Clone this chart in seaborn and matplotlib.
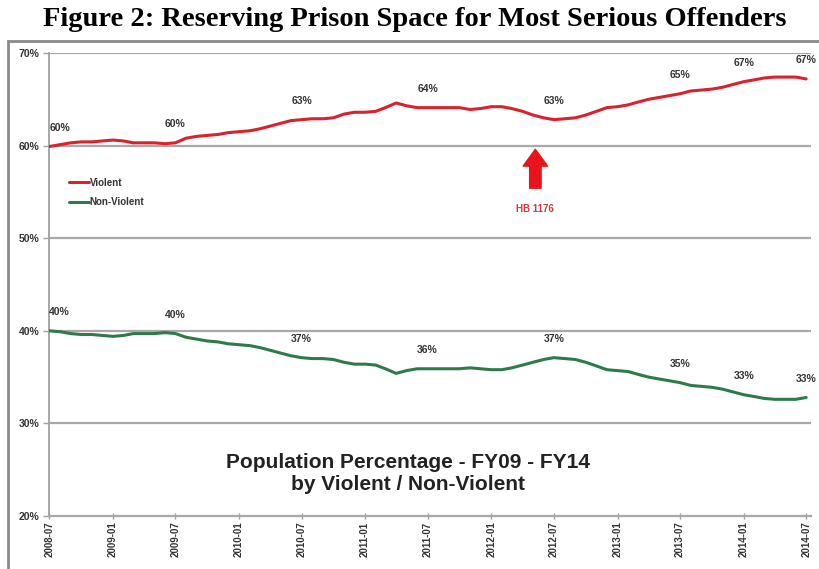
import numpy as np
import pandas as pd
import matplotlib
matplotlib.use("Agg")
import matplotlib.pyplot as plt
import matplotlib.dates as mdates
from matplotlib.patches import Rectangle
import seaborn as sns

# ---------------- data ----------------
months = pd.date_range("2008-07-01", periods=73, freq="MS")

violent = [59.9, 60.1, 60.3, 60.4, 60.4, 60.5, 60.6, 60.5, 60.3, 60.3, 60.3, 60.2,
           60.3, 60.8, 61.0, 61.1, 61.2, 61.4, 61.5, 61.6, 61.8, 62.1, 62.4, 62.7,
           62.8, 62.9, 62.9, 63.0, 63.4, 63.6, 63.6, 63.7, 64.1, 64.6, 64.3, 64.1,
           64.1, 64.1, 64.1, 64.1, 63.9, 64.0, 64.2, 64.2, 64.0, 63.7, 63.3, 63.0,
           62.8, 62.9, 63.0, 63.3, 63.7, 64.1, 64.2, 64.4, 64.7, 65.0, 65.2, 65.4,
           65.6, 65.9, 66.0, 66.1, 66.3, 66.6, 66.9, 67.1, 67.3, 67.4, 67.4, 67.4,
           67.2]

non_violent = [40.0, 39.9, 39.7, 39.6, 39.6, 39.5, 39.4, 39.5, 39.7, 39.7, 39.7, 39.8,
               39.7, 39.3, 39.1, 38.9, 38.8, 38.6, 38.5, 38.4, 38.2, 37.9, 37.6, 37.3,
               37.1, 37.0, 37.0, 36.9, 36.6, 36.4, 36.4, 36.3, 35.9, 35.4, 35.7, 35.9,
               35.9, 35.9, 35.9, 35.9, 36.0, 35.9, 35.8, 35.8, 36.0, 36.3, 36.6, 36.9,
               37.1, 37.0, 36.9, 36.6, 36.2, 35.8, 35.7, 35.6, 35.3, 35.0, 34.8, 34.6,
               34.4, 34.1, 34.0, 33.9, 33.7, 33.4, 33.1, 32.9, 32.7, 32.6, 32.6, 32.6,
               32.8]

label_idx = [0, 12, 24, 36, 48, 60, 66, 72]
violent_labels = ["60%", "60%", "63%", "64%", "63%", "65%", "67%", "67%"]
nonviolent_labels = ["40%", "40%", "37%", "36%", "37%", "35%", "33%", "33%"]

y_ticks = [20, 30, 40, 50, 60, 70]
y_ticklabels = ["20%", "30%", "40%", "50%", "60%", "70%"]

hb_date = pd.Timestamp("2012-05-08")
hb_label = "HB 1176"

title = "Figure 2: Reserving Prison Space for Most Serious Offenders"
subtitle = "Population Percentage - FY09 - FY14\nby Violent / Non-Violent"

series_names = ["Violent", "Non-Violent"]
colors = {"Violent": "#d8232e", "Non-Violent": "#2f7a4a"}

df = pd.DataFrame({
    "month": list(months) * 2,
    "pct": violent + non_violent,
    "series": [series_names[0]] * len(months) + [series_names[1]] * len(months),
})

# ---------------- plot ----------------
sns.set_theme(style="white")
plt.rcParams["font.family"] = ["Liberation Sans", "DejaVu Sans"]

fig = plt.figure(figsize=(8.19, 5.69), dpi=100)
ax = fig.add_axes([49 / 819, 1 - 516 / 569, (811 - 49) / 819, (516 - 53) / 569])

for y in [30, 40, 50, 60, 70]:
    ax.axhline(y, color="#a8a8a8", lw=1.6, zorder=1)

sns.lineplot(data=df, x="month", y="pct", hue="series", palette=colors,
             linewidth=2.2, ax=ax, legend=True, zorder=3)

ax.set_ylim(20, 70)
ax.set_xlim(months[0] - pd.Timedelta(days=1), months[-1] + pd.Timedelta(days=14))
ax.set_yticks(y_ticks)
ax.set_yticklabels(y_ticklabels, fontsize=7.5, fontweight="bold", color="#333333")
ax.xaxis.set_major_locator(mdates.MonthLocator(bymonth=(1, 7)))
ax.xaxis.set_major_formatter(mdates.DateFormatter("%Y-%m"))
ax.xaxis.set_minor_locator(mdates.MonthLocator())
plt.setp(ax.get_xticklabels(), rotation=90, fontsize=7, fontweight="bold", color="#333333")
ax.tick_params(axis="x", which="major", length=4, width=1, color="#a0a0a0", direction="inout", pad=2)
ax.tick_params(axis="x", which="minor", length=3, width=0.8, color="#a0a0a0", direction="inout")
ax.tick_params(axis="y", which="major", length=4, width=1, color="#a0a0a0", direction="out", pad=3)
ax.tick_params(axis="x", bottom=True)
ax.tick_params(axis="y", left=True)
ax.set_xlabel("")
ax.set_ylabel("")

for s in ["top", "right"]:
    ax.spines[s].set_visible(False)
ax.spines["left"].set_color("#a0a0a0")
ax.spines["left"].set_linewidth(1.3)
ax.spines["bottom"].set_color("#a8a8a8")
ax.spines["bottom"].set_linewidth(1.6)

# data labels
for i, (li, vl, nl) in enumerate(zip(label_idx, violent_labels, nonviolent_labels)):
    ha = "left" if i == 0 else "center"
    ax.annotate(vl, (months[li], violent[li]), xytext=(0, 10), textcoords="offset points",
                ha=ha, va="bottom", fontsize=7.5, fontweight="bold", color="#333333")
    ax.annotate(nl, (months[li], non_violent[li]), xytext=(0, 10), textcoords="offset points",
                ha=ha, va="bottom", fontsize=7.5, fontweight="bold", color="#333333")

# legend
leg = ax.legend(loc="upper left", bbox_to_anchor=(0.015, 0.75), frameon=False,
                handlelength=2.0, handletextpad=0.1, labelspacing=1.0,
                prop={"size": 7, "weight": "bold"})
for t in leg.get_texts():
    t.set_color("#333333")

# HB 1176 arrow
ax.annotate("", xy=(hb_date, 59.6), xytext=(hb_date, 55.4),
            arrowprops=dict(arrowstyle="simple,head_width=1.6,head_length=1.1,tail_width=0.75",
                            color="#e8141c", mutation_scale=11, shrinkA=0, shrinkB=0))
ax.text(hb_date, 53.1, hb_label, ha="center", va="center", fontsize=7,
        color="#d33a3a", fontweight="bold")

# inner subtitle
ax.text((408 - 49) / 762, 1 - (474 - 53) / 463, subtitle, transform=ax.transAxes,
        ha="center", va="center", fontsize=15, fontweight="bold", color="#222222",
        linespacing=1.2)

# outer figure title
fig.text(415 / 819, 1 - 19 / 569, title, ha="center", va="center",
         fontsize=20.5, fontweight="bold", family=["Liberation Serif", "DejaVu Serif"],
         color="black")

# outer frame
fig.add_artist(Rectangle((8 / 819, -0.01), (819 - 8 + 20) / 819, 1 - 41 / 569 + 0.01,
                         transform=fig.transFigure, fill=False, edgecolor="#8a8a8a",
                         linewidth=2.0, zorder=0))

fig.savefig("out.png", dpi=100)
